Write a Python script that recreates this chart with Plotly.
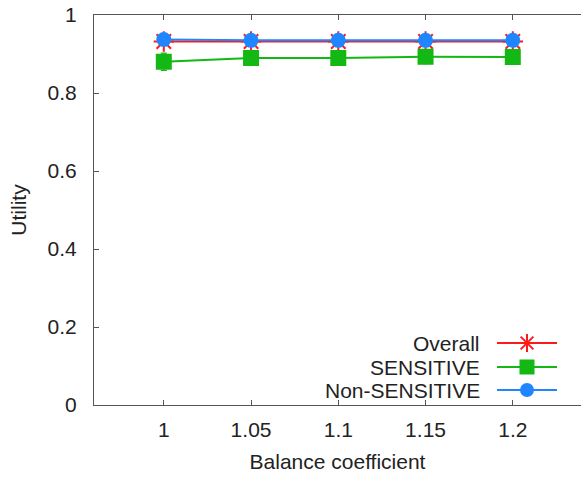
import plotly.graph_objects as go

# Balance coefficient sweep
balance = [1.0, 1.05, 1.1, 1.15, 1.2]
overall = [0.932, 0.932, 0.932, 0.932, 0.932]
overall_err = [0.004, 0.004, 0.004, 0.004, 0.004]
sensitive = [0.880, 0.890, 0.890, 0.893, 0.892]
sensitive_err = [0.022, 0.018, 0.018, 0.018, 0.018]
non_sensitive = [0.937, 0.935, 0.935, 0.935, 0.935]
non_sensitive_err = [0.004, 0.004, 0.004, 0.004, 0.004]

x_ticks = [1.0, 1.05, 1.1, 1.15, 1.2]
x_tick_text = ["1", "1.05", "1.1", "1.15", "1.2"]
y_ticks = [0, 0.2, 0.4, 0.6, 0.8, 1.0]
y_tick_text = ["0", "0.2", "0.4", "0.6", "0.8", "1"]

names = ["Overall", "SENSITIVE", "Non-SENSITIVE"]
colors = ["#ff1a1a", "#14b814", "#1f86ff"]
symbols = ["asterisk-open", "square", "circle"]
sizes = [17, 14, 13]
key_sizes = [15, 13, 12]
series = [(overall, overall_err), (sensitive, sensitive_err), (non_sensitive, non_sensitive_err)]

FONT = "Liberation Sans, Arial, sans-serif"
FS = 21
TEXT_COLOR = "#222222"
AXIS_COLOR = "#555555"

fig = go.Figure()

for name, color, sym, size, (vals, errs) in zip(names, colors, symbols, sizes, series):
    fig.add_trace(go.Scatter(
        x=balance, y=vals, name=name, mode="lines+markers",
        line=dict(color=color, width=2),
        marker=dict(symbol=sym, size=size, color=color,
                    line=dict(color=color, width=2)),
        error_y=dict(type="data", array=errs, color=color, thickness=1.2, width=3),
        showlegend=False,
    ))

# Legend keys on a pixel-scaled overlay axis: text on the left, sample on the right
legend_rows = [343, 367, 390]
key_x0, key_x1, key_mid, text_right = 497, 557, 527, 482
for name, color, sym, size, row in zip(names, colors, symbols, key_sizes, legend_rows):
    fig.add_trace(go.Scatter(
        x=[key_x0, key_x1], y=[row, row], mode="lines",
        line=dict(color=color, width=2), xaxis="x2", yaxis="y2",
        showlegend=False, hoverinfo="skip",
    ))
    fig.add_trace(go.Scatter(
        x=[key_mid], y=[row], mode="markers",
        marker=dict(symbol=sym, size=size, color=color, line=dict(color=color, width=2)),
        xaxis="x2", yaxis="y2", showlegend=False, hoverinfo="skip",
    ))
    fig.add_annotation(
        x=text_right, y=row, xref="x2", yref="y2", text=name, showarrow=False,
        xanchor="right", yanchor="middle", font=dict(family=FONT, size=FS, color=TEXT_COLOR),
    )

fig.update_layout(
    width=581, height=478,
    margin=dict(l=94, r=0, t=15, b=73),
    paper_bgcolor="white", plot_bgcolor="white",
    font=dict(family=FONT, size=FS, color=TEXT_COLOR),
    xaxis=dict(
        range=[0.96, 0.96 + 487 / 1745], tickvals=x_ticks, ticktext=x_tick_text,
        ticks="inside", ticklen=5, tickcolor=AXIS_COLOR, showline=True,
        linecolor=AXIS_COLOR, linewidth=1.2, mirror="ticks", showgrid=False,
        zeroline=False, ticklabelstandoff=6,
        title=dict(text="Balance coefficient", standoff=14, font=dict(size=FS)),
    ),
    yaxis=dict(
        range=[0, 1], tickvals=y_ticks, ticktext=y_tick_text,
        ticks="inside", ticklen=5, tickcolor=AXIS_COLOR, showline=True,
        linecolor=AXIS_COLOR, linewidth=1.2, mirror=False, showgrid=False,
        zeroline=False, ticklabelstandoff=12,
        title=dict(text="Utility", standoff=15, font=dict(size=FS)),
    ),
    xaxis2=dict(range=[94, 581], overlaying="x", visible=False, fixedrange=True),
    yaxis2=dict(range=[405, 15], overlaying="y", visible=False, fixedrange=True),
)

fig.write_html("out.html")
